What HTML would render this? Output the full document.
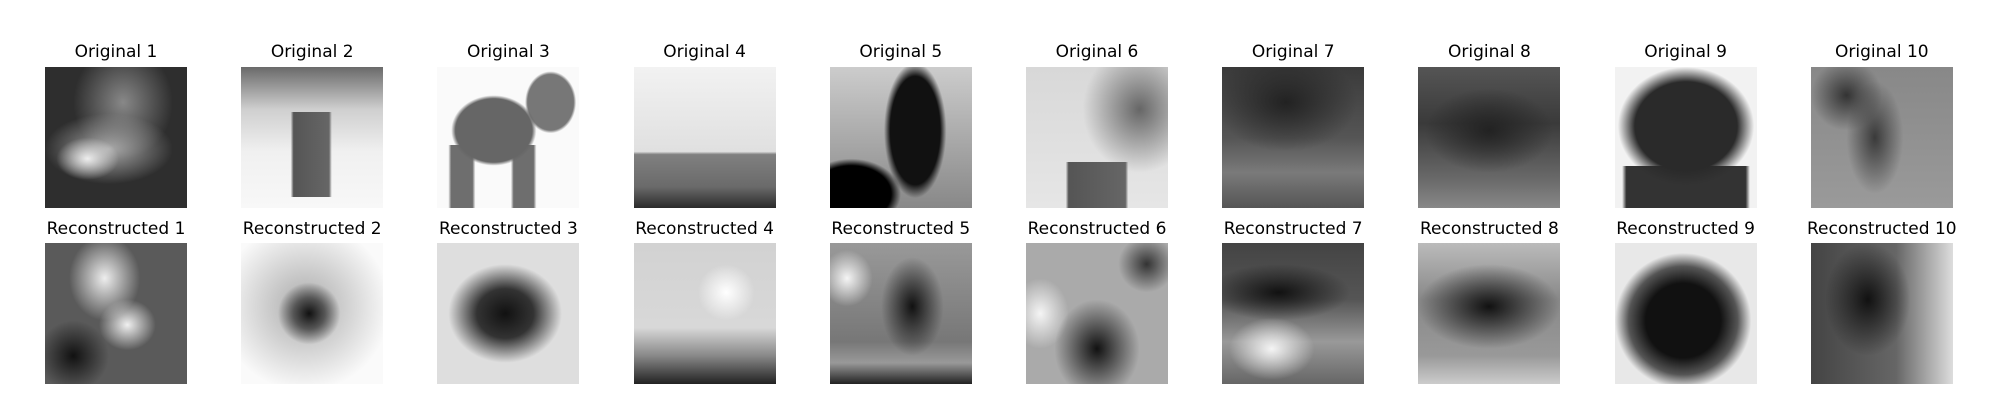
<!DOCTYPE html>
<html><head><meta charset="utf-8">
<style>
body{margin:0;width:2000px;height:400px;background:#fff;position:relative;overflow:hidden;font-family:"DejaVu Sans","Liberation Sans",sans-serif;}
.t{position:absolute;width:196px;text-align:center;font-size:17px;color:#000;line-height:18px;}
.im{position:absolute;width:142px;height:141px;}
</style></head><body>
<script>
const titlesTop=["Original 1","Original 2","Original 3","Original 4","Original 5","Original 6","Original 7","Original 8","Original 9","Original 10"];
const titlesBot=["Reconstructed 1","Reconstructed 2","Reconstructed 3","Reconstructed 4","Reconstructed 5","Reconstructed 6","Reconstructed 7","Reconstructed 8","Reconstructed 9","Reconstructed 10"];
const bgTop=[
"radial-gradient(ellipse 22% 15% at 30% 65%,#eee,transparent),radial-gradient(ellipse 45% 25% at 45% 58%,#aaa,transparent),radial-gradient(ellipse 35% 40% at 55% 25%,#888,transparent),#2e2e2e",
"linear-gradient(90deg,transparent 35%,#555 37%,#666 62%,transparent 64%) 0 45px/100% 85px no-repeat,linear-gradient(#6a6a6a,#cfcfcf 30%,#f0f0f0 60%,#f8f8f8)",
"radial-gradient(ellipse 30% 25% at 40% 45%,#666 90%,transparent 100%),radial-gradient(ellipse 18% 22% at 80% 25%,#777 90%,transparent),linear-gradient(90deg,transparent 8%,#6e6e6e 10%,#6e6e6e 25%,transparent 27%,transparent 52%,#6e6e6e 54%,#6e6e6e 68%,transparent 70%) 0 100% /100% 45% no-repeat,#fafafa",
"linear-gradient(#f2f2f2,#e0e0e0 60%,#808080 62%,#6a6a6a 85%,#2a2a2a)",
"radial-gradient(ellipse 22% 48% at 60% 45%,#111 80%,transparent),radial-gradient(ellipse 35% 25% at 15% 90%,#000 80%,transparent),linear-gradient(#ccc,#aaa 50%,#888)",
"linear-gradient(90deg,transparent 28%,#555 30%,#666 70%,transparent 72%) 0 95px/100% 60px no-repeat,radial-gradient(ellipse 40% 45% at 80% 30%,#666,transparent),linear-gradient(#d8d8d8,#e6e6e6)",
"radial-gradient(ellipse 50% 35% at 45% 25%,#222,transparent),linear-gradient(#3a3a3a,#555 50%,#7a7a7a 75%,#555)",
"radial-gradient(ellipse 45% 30% at 50% 45%,#222,transparent),linear-gradient(#555,#3a3a3a 40%,#6a6a6a 80%,#888)",
"radial-gradient(ellipse 48% 42% at 50% 42%,#2a2a2a 75%,transparent),linear-gradient(90deg,transparent 5%,#333 8%,#333 92%,transparent 95%) 0 100%/100% 30% no-repeat,#f2f2f2",
"radial-gradient(ellipse 20% 40% at 45% 50%,#3a3a3a,transparent),radial-gradient(ellipse 25% 25% at 25% 20%,#333,transparent),linear-gradient(#888,#9a9a9a)"];
const bgBot=[
"radial-gradient(ellipse 25% 25% at 20% 80%,#111,transparent),radial-gradient(ellipse 25% 30% at 42% 25%,#eee,transparent),radial-gradient(ellipse 20% 18% at 58% 58%,#f0f0f0,transparent),#5a5a5a",
"radial-gradient(ellipse 22% 22% at 48% 50%,#111,#555 50%,transparent),radial-gradient(ellipse 60% 60% at 45% 45%,#aaa,#fafafa)",
"radial-gradient(ellipse 40% 35% at 48% 50%,#111,#333 50%,transparent),#dedede",
"radial-gradient(ellipse 20% 20% at 65% 35%,#fff,transparent),linear-gradient(#d2d2d2,#d8d8d8 60%,#888 80%,#222)",
"radial-gradient(ellipse 22% 35% at 58% 45%,#111,transparent),radial-gradient(ellipse 18% 20% at 12% 25%,#f5f5f5,transparent),linear-gradient(#999,#777 70%,#999 85%,#222)",
"radial-gradient(ellipse 30% 35% at 50% 75%,#111,transparent),radial-gradient(ellipse 20% 25% at 10% 50%,#f5f5f5,transparent),radial-gradient(ellipse 20% 20% at 85% 15%,#333,transparent),#aaa",
"radial-gradient(ellipse 30% 22% at 35% 75%,#f5f5f5,transparent),radial-gradient(ellipse 50% 20% at 40% 35%,#111,transparent),linear-gradient(#444,#555 40%,#999 70%,#666)",
"radial-gradient(ellipse 50% 30% at 50% 45%,#111,transparent),linear-gradient(#bbb,#888 40%,#999 80%,#ccc)",
"radial-gradient(ellipse 48% 48% at 48% 55%,#111 55%,#555 80%,transparent),#e8e8e8",
"radial-gradient(ellipse 30% 40% at 40% 40%,#111,transparent),linear-gradient(90deg,#444,#666 60%,#ddd)"];
for(let i=0;i<10;i++){
  const x=45+196.2*i;
  const t1=document.createElement('div');t1.className='t';t1.textContent=titlesTop[i];
  t1.style.left=(x+71-98)+'px';t1.style.top='43px';
  
  
  document.body.appendChild(t1);
  const a=document.createElement('div');a.className='im';a.style.left=x+'px';a.style.top='67px';a.style.background=bgTop[i];
  
  
  document.body.appendChild(a);
  const t2=document.createElement('div');t2.className='t';t2.textContent=titlesBot[i];
  t2.style.left=(x+71-98)+'px';t2.style.top='220px';
  
  
  document.body.appendChild(t2);
  const b=document.createElement('div');b.className='im';b.style.left=x+'px';b.style.top='243px';b.style.background=bgBot[i];
  
  
  document.body.appendChild(b);
}
</script>
</body></html>
